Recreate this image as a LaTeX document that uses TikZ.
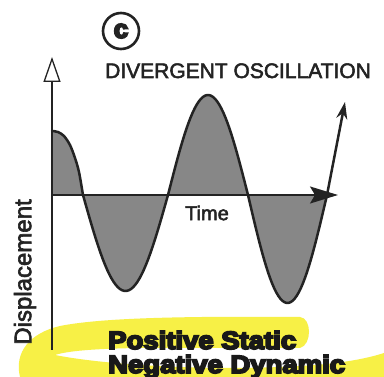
\documentclass[tikz,border=0pt]{standalone}
\usepackage{fontspec}
\usepackage{graphicx}
\setmainfont{Liberation Sans}[FakeBold=2.5]
\newfontfamily\heavyfont{Liberation Sans Bold}[FakeBold=7]
\usetikzlibrary{arrows.meta}
\definecolor{hl}{RGB}{247,240,70}
\definecolor{ink}{RGB}{35,35,35}
\definecolor{shadegray}{RGB}{135,135,135}
\tikzset{
  axisline/.style={draw=ink, line width=1.3pt},
  wave/.style={draw=ink, line width=2.5pt, line join=round, line cap=round},
  label/.style={inner sep=0pt, text=ink},
  heavy/.style={inner sep=0pt, anchor=base west, text=black!90, font=\heavyfont\fontsize{25}{25}\selectfont},
}
\begin{document}
\begin{tikzpicture}[x=1pt,y=-1pt]
\useasboundingbox (0,0) rectangle (384,377);
\fill[white] (0,0) rectangle (384,377);

% yellow highlighter swoosh
\fill[hl] (300,317) .. controls (180,316) and (100,318) .. (60,326)
  .. controls (30,333) and (14,352) .. (20,377)
  -- (384,377) -- (384,353)
  .. controls (350,364) and (300,368) .. (220,368)
  .. controls (150,367) and (90,362) .. (55,355)
  .. controls (70,350) and (110,347) .. (200,348) -- (300,348)
  .. controls (312,345) and (312,318) .. (300,317) -- cycle;

% shaded area between curve and axis
\fill[shadegray] (52,195) -- (52,131)
  -- plot[smooth] coordinates {(52,131) (58,132) (64,136) (70,145) (75,158) (79,172) (83,195)}
  -- plot[domain=83:168, samples=40] (\x, {195+96*sin(180*(\x-83)/85)})
  -- plot[domain=168:248, samples=40] (\x, {195-100*sin(180*(\x-168)/80)})
  -- plot[domain=248:327, samples=40] (\x, {195+108*sin(180*(\x-248)/79)})
  -- (327,195) -- cycle;

% axes
\coordinate (origin) at (52,195);
\coordinate (ybottom) at (52,350);
\coordinate (ytop) at (52,57);
\coordinate (xend) at (338,195);
\draw[axisline, -{Triangle[open, length=25pt, width=17pt, line width=1.3pt]}] (ybottom) -- (ytop);
\draw[axisline, line width=1.8pt, -{Stealth[length=28pt, width=17pt, inset=5pt]}] (origin) -- (xend);

% wave
\coordinate (wstart) at (52,131);
\coordinate (wlast) at (327,195);
\coordinate (wtip) at (345,102);
\draw[wave] plot[smooth] coordinates {(52,131) (58,132) (64,136) (70,145) (75,158) (79,172) (83,195)}
  -- plot[domain=83:168, samples=40] (\x, {195+96*sin(180*(\x-83)/85)})
  -- plot[domain=168:248, samples=40] (\x, {195-100*sin(180*(\x-168)/80)})
  -- plot[domain=248:327, samples=40] (\x, {195+108*sin(180*(\x-248)/79)});
\draw[wave, line cap=butt, -{Stealth[length=17pt, width=11pt]}] (wlast) -- (wtip);

% texts
\node[draw=ink, line width=2.6pt, circle, minimum size=36pt, inner sep=0pt, text=ink] (badge) at (121,31)
  {\heavyfont\fontsize{26}{26}\selectfont c};
\node[label, anchor=base west, font=\fontsize{21}{25}\selectfont] (title) at (105,78) {DIVERGENT OSCILLATION};
\node[label, font=\fontsize{20}{24}\selectfont] (time) at (207,213) {Time};
\node[label, rotate=90, font=\fontsize{24}{28}\selectfont] (disp) at (25,272) {Displacement};
\node[heavy] (pos) at (108,349) {\scalebox{1.1}[1]{Positive Static}};
\node[heavy] (neg) at (108,373) {\scalebox{1.1}[1]{Negative Dynamic}};
\end{tikzpicture}
\end{document}
